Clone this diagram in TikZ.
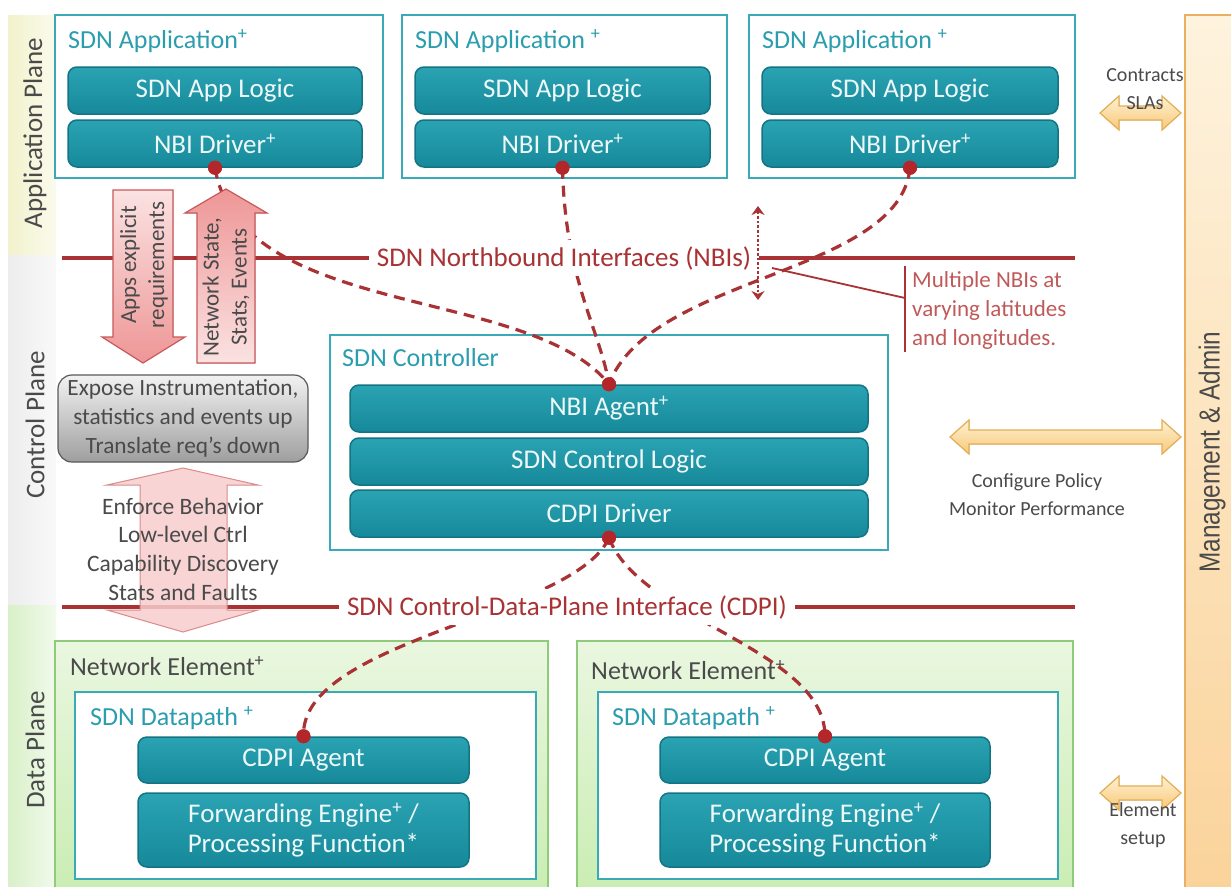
\documentclass[tikz,border=0pt]{standalone}
\usepackage{fontspec}
\setmainfont{Carlito}
\newfontfamily\narrowfont[FakeStretch=0.84]{Liberation Sans}
\usetikzlibrary{arrows.meta}
\definecolor{tealA}{HTML}{2AA3B3}
\definecolor{tealB}{HTML}{16899A}
\definecolor{tealD}{HTML}{137584}
\definecolor{tealF}{HTML}{3AAAB9}
\definecolor{tealT}{HTML}{2A9DAE}
\definecolor{lineR}{HTML}{A83234}
\definecolor{dotR}{HTML}{B3262A}
\definecolor{annR}{HTML}{C05A5A}
\definecolor{txtG}{HTML}{4A4A4A}
\definecolor{pinkA}{HTML}{FBE2E2}
\definecolor{pinkB}{HTML}{EE9696}
\definecolor{pinkE}{HTML}{C9595A}
\definecolor{pinkL}{HTML}{F7CDCD}
\definecolor{orA}{HTML}{FEF1D2}
\definecolor{orB}{HTML}{F8C878}
\definecolor{orE}{HTML}{E4AE55}
\definecolor{mgA}{HTML}{FEF3DE}
\definecolor{mgB}{HTML}{FAD39A}
\definecolor{mgE}{HTML}{E8B060}
\definecolor{grnA}{HTML}{EAF7E0}
\definecolor{grnB}{HTML}{C9EDB2}
\definecolor{grnE}{HTML}{8FCB7B}
\definecolor{bandApp}{HTML}{F2F2CC}
\definecolor{bandCtl}{HTML}{EDEDED}
\definecolor{bandDat}{HTML}{D8F0C8}
\tikzset{
  tealbox/.style={draw=tealD, line width=1.5pt, top color=tealA, bottom color=tealB, rounded corners=9pt, text=white!92!tealA, font=\fontsize{27}{30}\selectfont, inner sep=0pt, align=center},
  framebox/.style={draw=tealF, line width=2.5pt, fill=white, inner sep=0pt},
  tealtitle/.style={anchor=west, text=tealT, font=\fontsize{26}{28}\selectfont, inner sep=0pt},
  netbox/.style={draw=grnE, line width=1.5pt, top color=grnA, bottom color=grnB, inner sep=0pt},
  nettitle/.style={anchor=west, text=txtG, font=\fontsize{26}{28}\selectfont, inner sep=0pt},
  dotnode/.style={circle, fill=dotR, inner sep=0pt, minimum size=14pt},
  nbilink/.style={draw=lineR, line width=3.2pt, dash pattern=on 11pt off 7pt},
  ifline/.style={draw=lineR, line width=4pt},
  iflabel/.style={fill=white, text=lineR, font=\fontsize{27}{29}\selectfont, inner xsep=8pt, inner ysep=6pt},
  planelabel/.style={rotate=90, text=txtG, font=\fontsize{27}{29}\selectfont},
  sidetext/.style={text=txtG, font=\fontsize{20}{28}\selectfont, align=center},
  orarrow/.style={draw=orE, line width=1.2pt, top color=orA, bottom color=orB},
  pinkarrow/.style={draw=pinkE, line width=1.2pt},
  arrowtext/.style={rotate=90, align=center, text=txtG, font=\fontsize{23}{28}\selectfont}
}
\newcommand\orangedarrow[3]{%
  \filldraw[orarrow] (#1,#3) -- (#1+19,#3-17) -- (#1+19,#3-7) -- (#2-19,#3-7) -- (#2-19,#3-17) -- (#2,#3) -- (#2-19,#3+17) -- (#2-19,#3+7) -- (#1+19,#3+7) -- (#1+19,#3+17) -- cycle;}
\begin{document}
\begin{tikzpicture}[x=1pt,y=-1pt]
\useasboundingbox (0,0) rectangle (1231,886);
\clip (0,0) rectangle (1231,886);
\fill[white] (0,0) rectangle (1231,886);
% plane bands
\fill[left color=bandApp, right color=bandApp!35!white] (8,15) rectangle (56,255);
\fill[left color=bandCtl, right color=bandCtl!35!white] (8,255) rectangle (56,605);
\fill[left color=bandDat, right color=bandDat!35!white] (8,605) rectangle (56,890);
\node[planelabel] (plA) at (35,133) {Application Plane};
\node[planelabel] (plC) at (35,425) {Control Plane};
\node[planelabel] (plD) at (35,750) {Data Plane};
% management bar
\filldraw[draw=mgE, line width=1.5pt, top color=mgA, bottom color=mgB] (1185,15) rectangle (1240,895);
\node[rotate=90, text=txtG, font=\narrowfont\fontsize{29}{31}\selectfont] (mgtxt) at (1212,452) {Management \& Admin};
% applications
\node[framebox, minimum width=328pt, minimum height=163pt] (app1) at (219,96.5) {};
\node[tealtitle] (app1t) at (68,41) {SDN Application\textsuperscript{+}};
\node[tealbox, minimum width=294pt, minimum height=47pt] (app1l) at (215,90.5) {SDN App Logic};
\node[tealbox, minimum width=294pt, minimum height=47pt] (app1d) at (215,143.5) {NBI Driver\textsuperscript{+}};
\node[framebox, minimum width=325pt, minimum height=163pt] (app2) at (564.5,96.5) {};
\node[tealtitle] (app2t) at (415,41) {SDN Application \textsuperscript{+}};
\node[tealbox, minimum width=295pt, minimum height=47pt] (app2l) at (562.5,90.5) {SDN App Logic};
\node[tealbox, minimum width=295pt, minimum height=47pt] (app2d) at (562.5,143.5) {NBI Driver\textsuperscript{+}};
\node[framebox, minimum width=326pt, minimum height=163pt] (app3) at (912,96.5) {};
\node[tealtitle] (app3t) at (762,41) {SDN Application \textsuperscript{+}};
\node[tealbox, minimum width=296pt, minimum height=47pt] (app3l) at (910,90.5) {SDN App Logic};
\node[tealbox, minimum width=296pt, minimum height=47pt] (app3d) at (910,143.5) {NBI Driver\textsuperscript{+}};
% controller
\node[framebox, minimum width=558pt, minimum height=215pt] (ctrl) at (609,442.5) {};
\node[tealtitle] (ctrlt) at (342,358) {SDN Controller};
\node[tealbox, minimum width=518pt, minimum height=47pt] (nbiag) at (609,408.5) {NBI Agent\textsuperscript{+}};
\node[tealbox, minimum width=518pt, minimum height=47pt] (ctllog) at (609,461.5) {SDN Control Logic};
\node[tealbox, minimum width=518pt, minimum height=47pt] (cdpidrv) at (609,513.5) {CDPI Driver};
% network elements
\node[netbox, minimum width=493pt, minimum height=254pt] (ne1) at (301.5,768) {};
\node[nettitle] (ne1t) at (70,666) {Network Element\textsuperscript{+}};
\node[framebox, minimum width=461pt, minimum height=187pt] (dp1) at (305.5,785.5) {};
\node[tealtitle] (dp1t) at (90,718) {SDN Datapath \textsuperscript{+}};
\node[tealbox, minimum width=331pt, minimum height=46pt] (ag1) at (303.5,760) {CDPI Agent};
\node[tealbox, minimum width=331pt, minimum height=74pt] (fw1) at (303.5,830) {Forwarding Engine\textsuperscript{+} /\\Processing Function*};
\node[netbox, minimum width=496pt, minimum height=254pt] (ne2) at (825,768) {};
\node[nettitle] (ne2t) at (591,670) {Network Element\textsuperscript{+}};
\node[framebox, minimum width=460pt, minimum height=187pt] (dp2) at (828,785.5) {};
\node[tealtitle] (dp2t) at (612,718) {SDN Datapath \textsuperscript{+}};
\node[tealbox, minimum width=330pt, minimum height=46pt] (ag2) at (825,760) {CDPI Agent};
\node[tealbox, minimum width=330pt, minimum height=74pt] (fw2) at (825,830) {Forwarding Engine\textsuperscript{+} /\\Processing Function*};
% interface lines
\coordinate (nbiL) at (62,258);
\coordinate (nbiR) at (1075,258);
\coordinate (cdL) at (62,607);
\coordinate (cdR) at (1075,607);
\draw[ifline] (nbiL) -- (nbiR);
\draw[ifline] (cdL) -- (cdR);
% dots
\node[dotnode] (dA1) at (app1d.south) {};
\node[dotnode] (dA2) at (app2d.south) {};
\node[dotnode] (dA3) at (app3d.south) {};
\node[dotnode] (dAg) at (nbiag.north) {};
\node[dotnode] (dCd) at (cdpidrv.south) {};
\node[dotnode] (dN1) at (ag1.north) {};
\node[dotnode] (dN2) at (ag2.north) {};
% dashed links
\draw[nbilink] (dA1.center) .. controls (240,320) and (530,285) .. (dAg.center);
\draw[nbilink] (dA2.center) .. controls (565,280) and (600,330) .. (dAg.center);
\draw[nbilink] (dA3.center) .. controls (900,275) and (650,275) .. (dAg.center);
\draw[nbilink] (dCd.center) .. controls (575,615) and (300,640) .. (dN1.center);
\draw[nbilink] (dCd.center) .. controls (640,620) and (825,650) .. (dN2.center);
% labels
\node[iflabel] (nbilab) at (564,258) {SDN Northbound Interfaces (NBIs)};
\node[iflabel] (cdlab) at (567,607) {SDN Control-Data-Plane Interface (CDPI)};
% redraw dots on top
\foreach \d in {dA1,dA2,dA3,dAg,dCd,dN1,dN2} \fill[dotR] (\d) circle (7pt);
% dotted arrow and annotation
\coordinate (dtT) at (758,206);
\coordinate (dtB) at (758,300);
\draw[lineR, line width=2.6pt, dotted, {Stealth[length=9pt,width=13pt]}-{Stealth[length=9pt,width=13pt]}] (dtT) -- (dtB);
\coordinate (anA) at (772,268);
\coordinate (anB) at (905,298);
\coordinate (anT) at (905,266);
\coordinate (anD) at (905,352);
\draw[lineR, line width=1.8pt] (anA) -- (anB);
\draw[lineR, line width=1.8pt] (anT) -- (anD);
\node[anchor=west, text=annR, align=left, font=\fontsize{23}{29}\selectfont, inner sep=0pt] (antext) at (912,310) {Multiple NBIs at\\varying latitudes\\and longitudes.};
% left arrows
\filldraw[pinkarrow, top color=pinkA, bottom color=pinkB] (113,190) -- (173,190) -- (173,337) -- (185,337) -- (143,363) -- (102,337) -- (113,337) -- cycle;
\node[arrowtext] (reqtxt) at (144,265) {Apps explicit\\requirements};
\filldraw[pinkarrow, top color=pinkB, bottom color=pinkA] (197,363) -- (255,363) -- (255,213) -- (267,213) -- (226,189) -- (185,213) -- (197,213) -- cycle;
\node[arrowtext] (nettxt) at (226,287) {Network State,\\Stats, Events};
\node[draw=black!65, line width=1.2pt, rounded corners=14pt, top color=black!5, bottom color=black!38, minimum width=250pt, minimum height=87pt, align=center, text=txtG, font=\fontsize{23.3}{29}\selectfont, inner sep=0pt] (expose) at (183,418.5) {Expose Instrumentation,\\statistics and events up\\Translate req's down};
\filldraw[draw=pinkE!70, line width=1pt, fill=pinkL, fill opacity=0.85] (183,468) -- (258,485) -- (227,485) -- (227,610) -- (258,610) -- (183,632) -- (107,610) -- (140,610) -- (140,485) -- (107,485) -- cycle;
\node[align=center, text=txtG, font=\fontsize{23.5}{28.7}\selectfont] (cdtxt) at (183,549) {Enforce Behavior\\Low-level Ctrl\\Capability Discovery\\Stats and Faults};
% orange arrows
\orangedarrow{1100}{1181}{113}
\orangedarrow{950}{1181}{437}
\orangedarrow{1100}{1181}{793}
\node[sidetext] (slatxt) at (1145,89) {Contracts\\SLAs};
\node[sidetext] (poltxt) at (1037,495) {Configure Policy\\Monitor Performance};
\node[sidetext] (eltxt) at (1143,825) {Element\\setup};
\end{tikzpicture}
\end{document}
